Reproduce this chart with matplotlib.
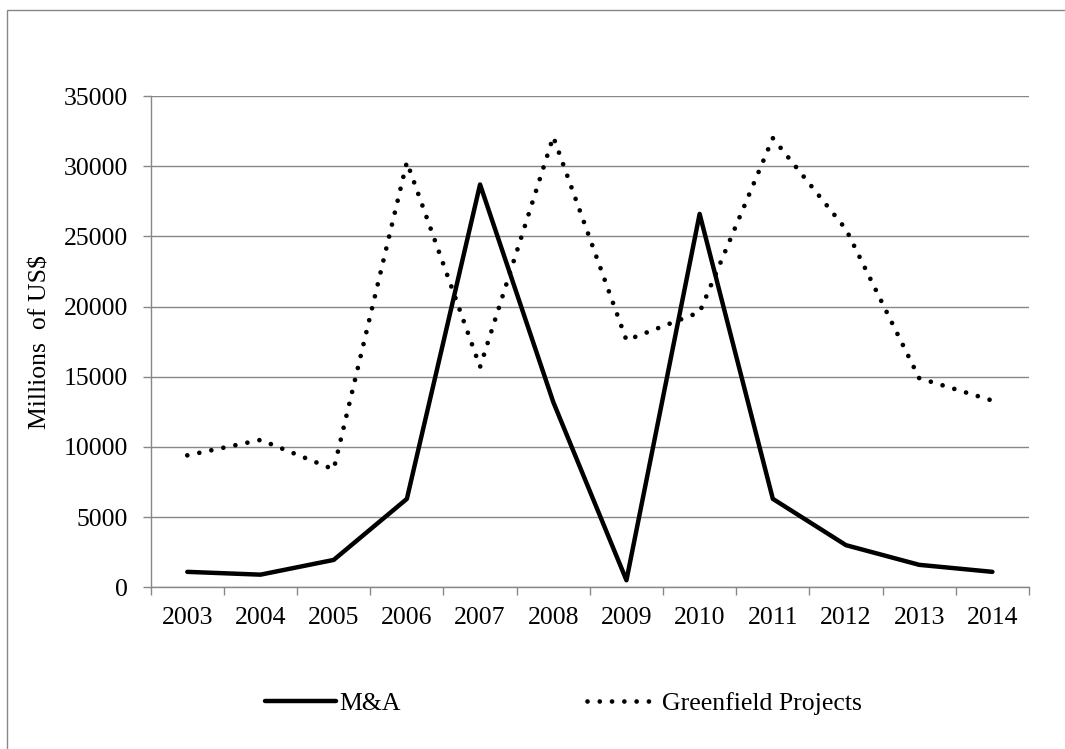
import numpy as np
import matplotlib
matplotlib.use('Agg')
import matplotlib.pyplot as plt
from matplotlib.patches import Rectangle

years = ['2003', '2004', '2005', '2006', '2007', '2008',
         '2009', '2010', '2011', '2012', '2013', '2014']
m_and_a = [1100, 900, 1950, 6300, 28700, 13200, 500, 26600, 6300, 3000, 1600, 1100]
greenfield = [9400, 10500, 8400, 30300, 15700, 32100, 17600, 19600, 32000, 25500, 14900, 13300]
y_ticks = [0, 5000, 10000, 15000, 20000, 25000, 30000, 35000]

grid_color = '#878787'
font_size = 18.5

plt.rcParams['font.family'] = ['Liberation Serif', 'DejaVu Serif']

fig = plt.figure(figsize=(10.65, 7.49), dpi=100)
ax = fig.add_axes([0.1415, 0.2159, 0.8247, 0.6559])

x = np.arange(len(years))
ax.plot(x, m_and_a, color='black', linewidth=3.2, solid_capstyle='round',
        solid_joinstyle='round', label='M&A', zorder=3)
ax.plot(x, greenfield, color='black', linewidth=3.4, linestyle=(0, (0.001, 2.6)),
        dash_capstyle='round', label='Greenfield Projects', zorder=3)

ax.set_xlim(-0.5, len(years) - 0.5)
ax.set_ylim(0, 35000)
ax.set_yticks(y_ticks)
ax.set_yticklabels([str(v) for v in y_ticks])
ax.yaxis.grid(True, color=grid_color, linewidth=1.0)
ax.set_axisbelow(True)

# category boundaries get the tick marks, labels sit in the middle
ax.set_xticks(np.arange(len(years) + 1) - 0.5)
ax.set_xticklabels([])
ax.set_xticks(x, minor=True)
ax.set_xticklabels(years, minor=True)
ax.tick_params(axis='x', which='major', length=5.5, width=1.0, color=grid_color, direction='out')
ax.tick_params(axis='x', which='minor', length=0, pad=14, labelsize=font_size)
ax.tick_params(axis='y', length=5.5, width=1.0, color=grid_color, pad=11, labelsize=font_size)

for side in ['top', 'right']:
    ax.spines[side].set_visible(False)
for side in ['left', 'bottom']:
    ax.spines[side].set_color(grid_color)
    ax.spines[side].set_linewidth(1.0)

ax.set_ylabel('Millions  of US$', fontsize=font_size)
ax.yaxis.set_label_coords(-0.113, 0.5)

fig.legend(loc='center', bbox_to_anchor=(0.529, 0.061), ncol=2, frameon=False,
           fontsize=font_size, handlelength=2.76, handletextpad=0.15,
           columnspacing=7.25)

# outer chart border (right and bottom edges fall outside the image)
fig.add_artist(Rectangle((7 / 1065, -0.05), 1.2, 1.05 - 10 / 749,
                         transform=fig.transFigure, fill=False,
                         edgecolor=grid_color, linewidth=1.0))

fig.savefig('out.png', dpi=100)
